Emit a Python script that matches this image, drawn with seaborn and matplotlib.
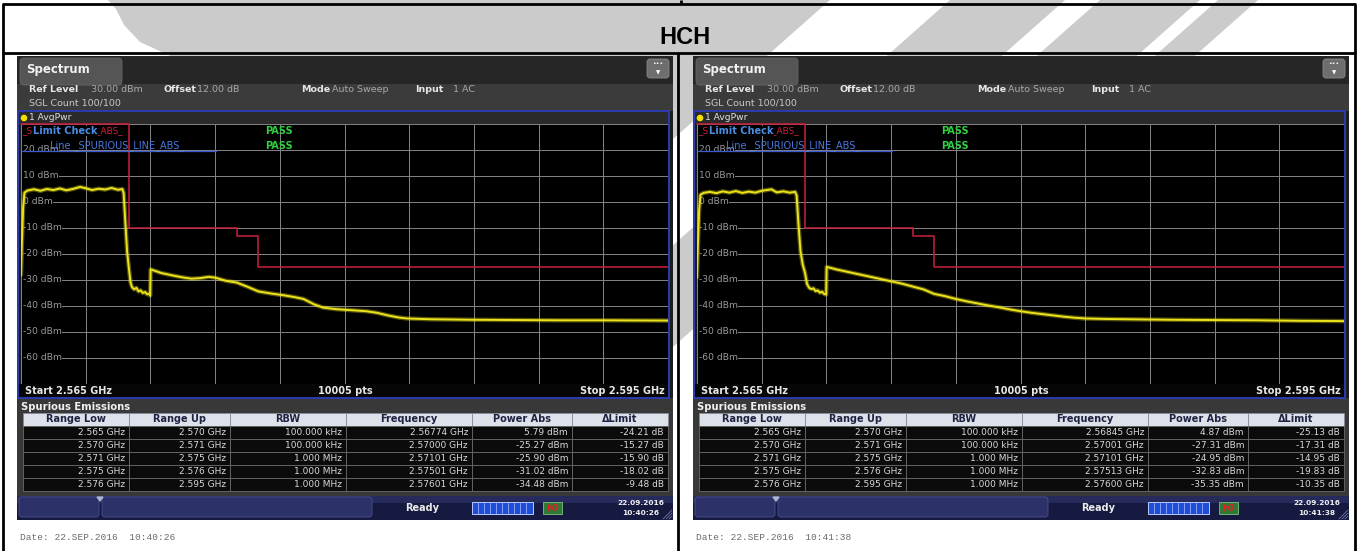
import numpy as np
import pandas as pd
import matplotlib
matplotlib.use("Agg")
import matplotlib.pyplot as plt
import matplotlib.transforms as mtransforms
from matplotlib.patches import Rectangle, FancyBboxPatch, Polygon, Circle
import seaborn as sns

sns.set_style("dark")
plt.rcParams["font.family"] = ["DejaVu Sans"]

W, H = 1358, 551

title = "HCH"

# spurious emission table (same ranges on both screenshots)
range_low_ghz = [2.565, 2.570, 2.571, 2.575, 2.576]
range_up_ghz = [2.570, 2.571, 2.575, 2.576, 2.595]
rbw_labels = ["100.000 kHz", "100.000 kHz", "1.000 MHz", "1.000 MHz", "1.000 MHz"]
table_headers = ["Range Low", "Range Up", "RBW", "Frequency", "Power Abs", "\u0394Limit"]

left_peak_freq = [2.56774, 2.57000, 2.57101, 2.57501, 2.57601]
left_peak_power = [5.79, -25.27, -25.90, -31.02, -34.48]
left_delta = [-24.21, -15.27, -15.90, -18.02, -9.48]

right_peak_freq = [2.56845, 2.57001, 2.57101, 2.57513, 2.57600]
right_peak_power = [4.87, -27.31, -24.95, -32.83, -35.35]
right_delta = [-25.13, -17.31, -14.95, -19.83, -10.35]

level_ticks = [20, 10, 0, -10, -20, -30, -40, -50, -60]

# AvgPwr traces (GHz, dBm)
left_freq = [2.56500, 2.56504, 2.56510, 2.56516, 2.56530, 2.56560, 2.56590, 2.56620,
             2.56650, 2.56680, 2.56710, 2.56740, 2.56774, 2.56800, 2.56830, 2.56860,
             2.56890, 2.56920, 2.56950, 2.56970, 2.56976, 2.56984, 2.56992, 2.57000,
             2.57008, 2.57015, 2.57025, 2.57035, 2.57045, 2.57055, 2.57065, 2.57075,
             2.57085, 2.57095, 2.57099, 2.57101, 2.57150, 2.57200, 2.57250, 2.57290,
             2.57330, 2.57370, 2.57400, 2.57450, 2.57501, 2.57550, 2.57601, 2.57660,
             2.57720, 2.57770, 2.57810, 2.57860, 2.57900, 2.57960, 2.58030, 2.58100,
             2.58150, 2.58200, 2.58250, 2.58290, 2.58400, 2.58600, 2.58800, 2.59000,
             2.59200, 2.59500]
left_power = [-28.0, -16.0, -2.0, 3.6, 4.4, 4.9, 4.3, 5.0,
              4.6, 5.2, 4.5, 5.0, 5.79, 5.3, 4.6, 5.1,
              4.8, 5.4, 4.7, 5.0, 3.5, -8.0, -19.0, -25.3,
              -31.0, -32.8, -33.6, -33.0, -34.4, -34.0, -35.0, -34.6,
              -35.5, -35.2, -36.0, -25.9, -27.3, -28.2, -29.0, -29.5,
              -29.3, -28.8, -29.1, -30.3, -31.0, -32.6, -34.4, -35.2,
              -35.9, -36.6, -37.3, -39.4, -40.6, -41.2, -41.6, -42.0,
              -42.6, -43.6, -44.4, -44.8, -45.1, -45.3, -45.4, -45.5,
              -45.5, -45.6]

right_freq = [2.56500, 2.56504, 2.56510, 2.56516, 2.56530, 2.56560, 2.56590, 2.56620,
              2.56650, 2.56680, 2.56710, 2.56740, 2.56770, 2.56800, 2.56845, 2.56870,
              2.56900, 2.56930, 2.56955, 2.56962, 2.56970, 2.56980, 2.56990, 2.57001,
              2.57010, 2.57020, 2.57030, 2.57040, 2.57050, 2.57060, 2.57070, 2.57080,
              2.57090, 2.57099, 2.57101, 2.57150, 2.57200, 2.57250, 2.57300, 2.57350,
              2.57400, 2.57450, 2.57513, 2.57550, 2.57600, 2.57650, 2.57700, 2.57750,
              2.57800, 2.57850, 2.57900, 2.57950, 2.58000, 2.58050, 2.58100, 2.58150,
              2.58200, 2.58250, 2.58300, 2.58400, 2.58500, 2.58700, 2.58900, 2.59100,
              2.59300, 2.59500]
right_power = [-29.0, -17.0, -3.0, 2.8, 3.5, 3.9, 3.4, 4.1,
               3.6, 4.2, 3.5, 4.0, 3.6, 4.3, 4.87, 3.7,
               4.1, 3.6, 3.9, 2.5, -8.0, -19.0, -24.0, -27.3,
               -31.5, -33.0, -33.5, -33.2, -34.3, -34.0, -34.9, -34.5,
               -35.4, -35.6, -24.95, -26.0, -26.9, -27.8, -28.7, -29.6,
               -30.5, -31.4, -32.8, -33.6, -35.35, -36.2, -37.3, -38.2,
               -39.0, -39.8, -40.5, -41.3, -42.0, -42.6, -43.1, -43.6,
               -44.1, -44.5, -44.8, -45.0, -45.1, -45.3, -45.4, -45.5,
               -45.7, -45.8]

dates = ["Date: 22.SEP.2016  10:40:26", "Date: 22.SEP.2016  10:41:38"]
clocks = [("22.09.2016", "10:40:26"), ("22.09.2016", "10:41:38")]

TRACE = "#ece31c"
LIMIT = "#c8203c"
BLUE = "#2b3bb0"


def rect(ax, x0, y0, x1, y1, color, **kw):
    ax.add_patch(Rectangle((x0, y0), x1 - x0, y1 - y0, facecolor=color,
                           edgecolor=kw.pop("ec", "none"), **kw))


def txt(ax, x, y, s, size=6.8, color="#d8d8d8", weight="normal", ha="left", **kw):
    ax.text(x, y, s, fontsize=size, color=color, fontweight=weight, ha=ha, va="center", **kw)


fig = plt.figure(figsize=(W / 100, H / 100), dpi=100)
fig.patch.set_facecolor("white")

bg = fig.add_axes([0, 0, 1, 1], zorder=0)
bg.set_xlim(0, W)
bg.set_ylim(H, 0)
bg.axis("off")

fg = fig.add_axes([0, 0, 1, 1], zorder=5)
fg.set_xlim(0, W)
fg.set_ylim(H, 0)
fg.axis("off")
fg.patch.set_alpha(0)

# watermark swoosh behind everything
wm = "#cbcbcb"
bg.add_patch(Polygon([(108, 0), (116, 9), (124, 25), (140, 42), (175, 58), (300, 95),
                      (500, 125), (672, 140), (830, 0)], closed=True, facecolor=wm, edgecolor="none"))
for x0, x1 in [(950, 1065), (1100, 1200), (1218, 1258)]:
    bg.add_patch(Polygon([(x0, 0), (x1, 0), (x1 - 1.13 * 350, 350), (x0 - 1.13 * 350, 350)],
                         closed=True, facecolor=wm, edgecolor="none"))

# title cell
fg.text(685, 38, title, fontsize=17, fontweight="bold", ha="center", va="center",
        family=["Liberation Sans", "DejaVu Sans"], color="black")


def draw_panel(dx, freq, power, peak_freq, peak_power, delta, date_str, clock):
    # screenshot chrome
    rect(bg, 17 + dx, 56, 673 + dx, 520, "#1c1c1c")
    rect(bg, 17 + dx, 56, 673 + dx, 84, "#262626")
    rect(bg, 17 + dx, 84, 673 + dx, 111, "#3b3b3b")
    bg.add_patch(FancyBboxPatch((20 + dx, 58), 102, 27, boxstyle="round,pad=0,rounding_size=4",
                                facecolor="#555555", edgecolor="#666666", lw=0.6))
    txt(bg, 26 + dx, 70, "Spectrum", size=8.5, color="#f2f2f2", weight="bold")
    bg.add_patch(FancyBboxPatch((647 + dx, 59), 22, 19, boxstyle="round,pad=0,rounding_size=3",
                                facecolor="#6e6e6e", edgecolor="#8a8a8a", lw=0.6))
    txt(bg, 658 + dx, 64, "\u2022\u2022\u2022", size=4.5, color="white", ha="center")
    txt(bg, 658 + dx, 72.5, "\u25bc", size=4, color="white", ha="center")

    for x, s, w in [(29, "Ref Level", "bold"), (91, "30.00 dBm", "normal"),
                    (163, "Offset", "bold"), (197, "12.00 dB", "normal"),
                    (301, "Mode", "bold"), (332, "Auto Sweep", "normal"),
                    (415, "Input", "bold"), (453, "1 AC", "normal")]:
        txt(bg, x + dx, 89, s, size=6.8, color="#e6e6e6" if w == "bold" else "#a8a8a8", weight=w)
    txt(bg, 29 + dx, 102.5, "SGL Count 100/100", size=6.8, color="#c8c8c8")

    rect(bg, 19 + dx, 112, 668 + dx, 124, "#2a2a2a")
    bg.add_patch(Circle((24 + dx, 118), 2.6, color="#f0e000"))
    txt(bg, 29 + dx, 118, "1 AvgPwr", size=6.6, color="#e0e0e0")

    # start / stop bar
    rect(bg, 19 + dx, 384, 668 + dx, 397, "#060606")
    txt(bg, 25 + dx, 391, "Start 2.565 GHz", size=7, color="#e6e6e6", weight="bold")
    txt(bg, 345 + dx, 391, "10005 pts", size=7, color="#e6e6e6", weight="bold", ha="center")
    txt(bg, 665 + dx, 391, "Stop 2.595 GHz", size=7, color="#e6e6e6", weight="bold", ha="right")

    # spurious emissions table
    rect(bg, 17 + dx, 398, 673 + dx, 496, "#383838")
    txt(bg, 21 + dx, 406.5, "Spurious Emissions", size=7.2, color="#f0f0f0", weight="bold")
    cols = [23, 129, 230, 346, 472, 572, 668]
    for j, head in enumerate(table_headers):
        rect(bg, cols[j] + dx, 413, cols[j + 1] + dx, 426, "#dde1ea", ec="#8a8a9a", lw=0.6)
        txt(bg, (cols[j] + cols[j + 1]) / 2 + dx, 419.5, head, size=7, color="#1e2240",
            weight="bold", ha="center")
    for i in range(len(range_low_ghz)):
        y0 = 426 + 13 * i
        cells = [f"{range_low_ghz[i]:.3f} GHz", f"{range_up_ghz[i]:.3f} GHz", rbw_labels[i],
                 f"{peak_freq[i]:.5f} GHz", f"{peak_power[i]:.2f} dBm", f"{delta[i]:.2f} dB"]
        for j, s in enumerate(cells):
            rect(bg, cols[j] + dx, y0, cols[j + 1] + dx, y0 + 13, "#0b0b0b", ec="#6a6a6a", lw=0.6)
            txt(bg, cols[j + 1] - 4 + dx, y0 + 6.5, s, size=6.5, color="#d8d8d8", ha="right")

    # status bar
    rect(bg, 17 + dx, 496, 673 + dx, 520, "#161a40")
    rect(bg, 17 + dx, 496, 673 + dx, 503, "#262b5c")
    for x0, x1 in [(19, 99), (102, 372)]:
        bg.add_patch(FancyBboxPatch((x0 + dx, 497), x1 - x0, 20, boxstyle="round,pad=0,rounding_size=3",
                                    facecolor="#2c3268", edgecolor="#4a5090", lw=0.6))
    bg.add_patch(Polygon([(97 + dx, 497), (103 + dx, 497), (100 + dx, 501)], color="#b0b4d0"))
    txt(bg, 405 + dx, 508, "Ready", size=7, color="#ececec", weight="bold")
    rect(bg, 472 + dx, 502, 533 + dx, 514, "#1e4ed8", ec="#b8c8ff", lw=0.7)
    for k in range(1, 10):
        bg.plot([472 + dx + 6 * k] * 2, [503, 513], color="#9ab0ff", lw=0.6)
    rect(bg, 543 + dx, 502, 562 + dx, 514, "#2f7a36", ec="#80c080", lw=0.6)
    txt(bg, 552.5 + dx, 508, "I/O", size=5.5, color="#e02020", weight="bold", ha="center", style="italic")
    txt(bg, 641 + dx, 503, clock[0], size=5.3, color="#f0f0f0", weight="bold", ha="center")
    txt(bg, 641 + dx, 513, clock[1], size=5.3, color="#f0f0f0", weight="bold", ha="center")
    for k in range(4):
        bg.plot([663 + dx + 3 * k, 672 + dx], [519, 510 + 3 * k], color="#8088b0", lw=0.5)

    txt(bg, 20 + dx, 537, date_str, size=6.8, color="#6c6c6c", family=["Liberation Mono", "DejaVu Sans Mono"])

    # trace plot
    ax = fig.add_axes([(21 + dx) / W, 1 - 384 / H, 647 / W, 260 / H], zorder=2)
    ax.set_facecolor("black")
    ax.set_xlim(2.565, 2.595)
    ax.set_ylim(-70, 30)
    ax.set_xticks(np.linspace(2.565, 2.595, 11))
    ax.set_yticks(np.arange(-70, 31, 10))
    ax.grid(True, color="#858585", lw=0.7)
    ax.tick_params(length=0, labelbottom=False, labelleft=False)
    for sp in ax.spines.values():
        sp.set_visible(False)

    trans = mtransforms.blended_transform_factory(ax.transAxes, ax.transData)
    for lv in level_ticks:
        ax.text(0.003, lv, f"{lv} dBm", transform=trans, fontsize=6.6, color="#9a9a9a",
                va="center", ha="left", zorder=2,
                bbox=dict(facecolor="black", edgecolor="none", pad=0.4))

    limit = [round(p - d, 2) for p, d in zip(peak_power, delta)]
    lim_df = pd.DataFrame({
        "freq": [f for lo, up in zip(range_low_ghz, range_up_ghz) for f in (lo, up)],
        "limit": [v for v in limit for _ in (0, 1)],
    })
    sns.lineplot(data=lim_df, x="freq", y="limit", sort=False, estimator=None,
                 color=LIMIT, lw=1.1, ax=ax, zorder=3)
    ax.lines[-1].set_clip_on(False)

    tr_df = pd.DataFrame({"freq": freq, "power": power})
    # soft halo first, then the trace itself, to mimic the fuzzy averaged trace
    sns.lineplot(data=tr_df, x="freq", y="power", sort=False, estimator=None,
                 color=TRACE, lw=3.2, alpha=0.35, ax=ax, zorder=4)
    sns.lineplot(data=tr_df, x="freq", y="power", sort=False, estimator=None,
                 color=TRACE, lw=1.4, ax=ax, zorder=4)
    ax.set_xlabel("")
    ax.set_ylabel("")

    # overlays in screen pixels
    fg.add_patch(Rectangle((18 + dx, 111), 651, 287, facecolor="none", edgecolor=BLUE, lw=1.4))
    fg.plot([22 + dx, 216 + dx], [150.5, 150.5], color="#3a5ad0", lw=0.9)
    txt(fg, 22 + dx, 131, "_SPURIOUS_LINE_ABS_", size=6.4, color="#d02038")
    txt(fg, 33 + dx, 131, "Limit Check", size=7, color="#4a8ae0", weight="bold",
        bbox=dict(facecolor="black", edgecolor="none", pad=0.2))
    txt(fg, 50 + dx, 146, "Line _SPURIOUS_LINE_ABS_", size=7, color="#4a78e0")
    txt(fg, 265 + dx, 131, "PASS", size=7, color="#30d040", weight="bold")
    txt(fg, 265 + dx, 146, "PASS", size=7, color="#30d040", weight="bold")


draw_panel(0, left_freq, left_power, left_peak_freq, left_peak_power, left_delta, dates[0], clocks[0])
draw_panel(676, right_freq, right_power, right_peak_freq, right_peak_power, right_delta, dates[1], clocks[1])

# outer table rules
for (x0, y0, x1, y1) in [(2, 4, 1356, 4), (2, 53, 1356, 53), (3, 4, 3, 551),
                         (1355, 4, 1355, 551), (678, 53, 678, 551), (681, 0, 681, 4)]:
    fg.plot([x0, x1], [y0, y1], color="black", lw=2, solid_capstyle="butt")

fig.savefig("out.png", dpi=100, facecolor="white")
